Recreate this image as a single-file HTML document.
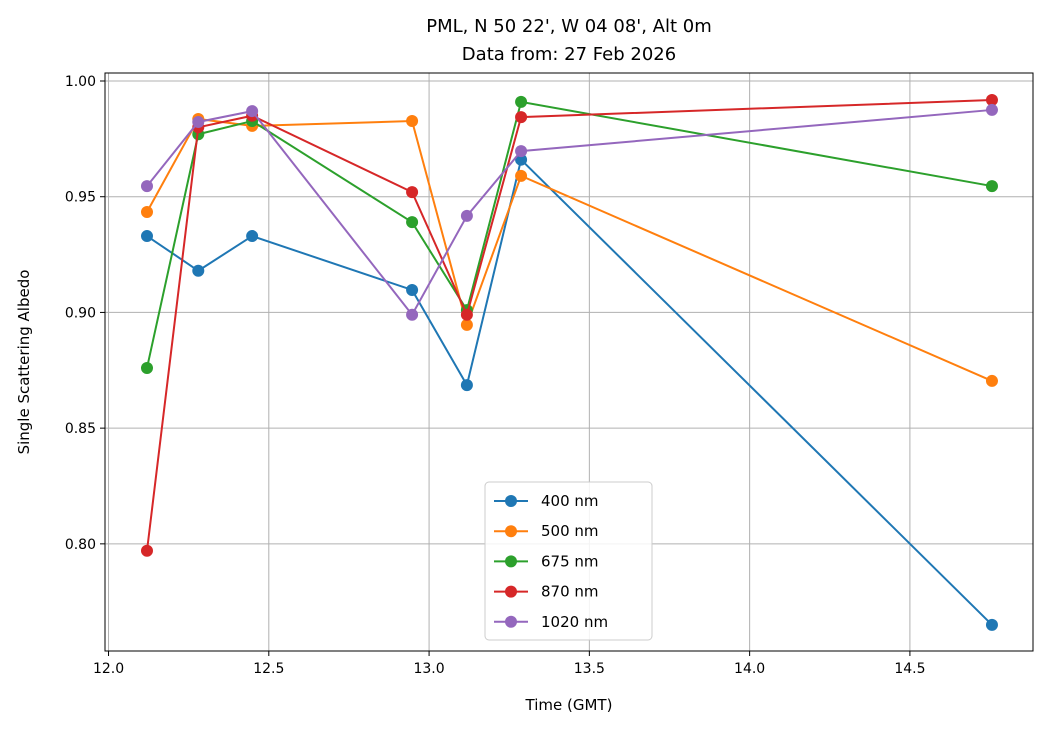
<!DOCTYPE html>
<html><head><meta charset="utf-8"><style>
body{margin:0;background:#fff;font-family:"Liberation Sans","DejaVu Sans",sans-serif;}
svg text{font-family:"DejaVu Sans","Liberation Sans",sans-serif;}
</style></head><body>
<svg id="chart" width="1049" height="729" xmlns="http://www.w3.org/2000/svg">
<text x="569" y="32" font-size="18" text-anchor="middle">PML, N 50 22', W 04 08', Alt 0m</text>
<text x="569" y="60" font-size="18" text-anchor="middle">Data from: 27 Feb 2026</text>
<g id="grid"></g><g id="axes"></g><g id="series"></g><g id="legend"></g>
<text x="569" y="710" font-size="15" text-anchor="middle">Time (GMT)</text>
<text transform="translate(29,362) rotate(-90)" font-size="15" text-anchor="middle">Single Scattering Albedo</text>
</svg>
<script>
const times=[12.12,12.28,12.448,12.947,13.118,13.287,14.756];
const seriesNames=["400 nm","500 nm","675 nm","870 nm","1020 nm"];
const colors=["#1f77b4","#ff7f0e","#2ca02c","#d62728","#9467bd"];
const s400=[0.933,0.918,0.933,0.9097,0.8686,0.966,0.765];
const s500=[0.9434,0.9836,0.9806,0.9827,0.8946,0.959,0.8704];
const s675=[0.876,0.977,0.9827,0.939,0.901,0.991,0.9546];
const s870=[0.797,0.980,0.985,0.952,0.899,0.9844,0.9918];
const s1020=[0.9546,0.9823,0.987,0.899,0.9417,0.9697,0.9875];
const xTicks=[12.0,12.5,13.0,13.5,14.0,14.5];
const yTicks=[0.80,0.85,0.90,0.95,1.00];
const L=105,R=1033,T=73,B=651,X0=11.989,X1=14.884,Y0=0.7537,Y1=1.00346;
const sx=v=>L+(v-X0)/(X1-X0)*(R-L), sy=v=>B-(v-Y0)/(Y1-Y0)*(B-T);
const NS="http://www.w3.org/2000/svg";
function mk(tag,attrs,parent,txt){const e=document.createElementNS(NS,tag);for(const k in attrs)e.setAttribute(k,attrs[k]);if(txt!==undefined)e.textContent=txt;document.getElementById(parent).appendChild(e);return e;}
xTicks.forEach(t=>{const x=sx(t);
 let g=mk('line',{x1:x,x2:x,y1:T,y2:B,stroke:'#b0b0b0','stroke-width':1},'grid');
 
 
 mk('line',{x1:x,x2:x,y1:B,y2:B+5,stroke:'#000'},'axes');
 let l=mk('text',{x:x,y:B+22,'font-size':14,'text-anchor':'middle'},'axes',t.toFixed(1));
 
 });
yTicks.forEach(t=>{const y=sy(t);
 let g=mk('line',{x1:L,x2:R,y1:y,y2:y,stroke:'#b0b0b0','stroke-width':1},'grid');
 
 
 mk('line',{x1:L-5,x2:L,y1:y,y2:y,stroke:'#000'},'axes');
 let l=mk('text',{x:L-9,y:y+5,'font-size':14,'text-anchor':'end'},'axes',t.toFixed(2));
 
 });
let fr=mk('rect',{x:L,y:T,width:R-L,height:B-T,fill:'none',stroke:'#000','stroke-width':1},'axes');


const all=[s400,s500,s675,s870,s1020];
all.forEach((s,i)=>{
 const pts=s.map((v,j)=>sx(times[j])+','+sy(v)).join(' ');
 let p=mk('polyline',{points:pts,fill:'none',stroke:colors[i],'stroke-width':2},'series');
 
 
 s.forEach((v,j)=>{let c=mk('circle',{cx:sx(times[j]),cy:sy(v),r:6,fill:colors[i]},'series');
  
  });
});
let lb=mk('rect',{x:485,y:482,width:167,height:158,rx:4,fill:'#fff','fill-opacity':0.85,stroke:'#ccc'},'legend');


seriesNames.forEach((n,i)=>{const y=501+i*30.2;
 mk('line',{x1:494,x2:528,y1:y,y2:y,stroke:colors[i],'stroke-width':2},'legend');
 mk('circle',{cx:511,cy:y,r:6,fill:colors[i]},'legend');
 let t=mk('text',{x:541,y:y+5,'font-size':15},'legend',n);
 
 });
</script>
</body></html>
